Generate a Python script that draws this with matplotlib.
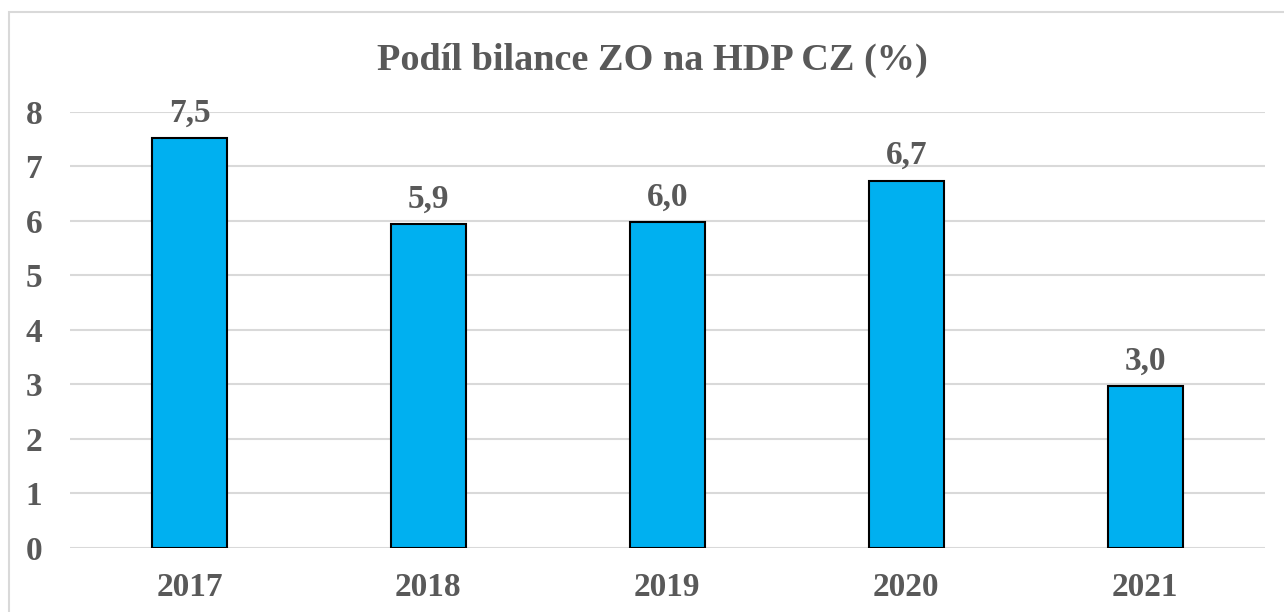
import matplotlib.pyplot as plt
from matplotlib.patches import Rectangle

years = ["2017", "2018", "2019", "2020", "2021"]
shares = [7.52, 5.94, 5.98, 6.74, 2.97]
labels = ["7,5", "5,9", "6,0", "6,7", "3,0"]

text_col = "#595959"
bar_col = "#00B0F0"
grid_col = "#D9D9D9"

plt.rcParams["font.family"] = ["Liberation Serif", "DejaVu Serif"]
plt.rcParams["font.weight"] = "bold"

fig = plt.figure(figsize=(12.84, 6.12), dpi=100)
ax = fig.add_axes([0.0545, 0.1046, 0.9305, 0.7124])

x = list(range(len(years)))
ax.bar(x, shares, width=0.314, color=bar_col, edgecolor="black", linewidth=1.5, zorder=3)
for xi, v, lab in zip(x, shares, labels):
    ax.annotate(lab, (xi, v), xytext=(0, 7), textcoords="offset points",
                ha="center", va="bottom", fontsize=24, fontweight="bold", color=text_col)

ax.set_xlim(-0.5, len(years) - 0.5)
ax.set_ylim(0, 8)
ax.set_yticks(range(0, 9))
ax.set_xticks(x)
ax.set_xticklabels(years)
ax.yaxis.grid(True, color=grid_col, linewidth=1.5, zorder=0)
ax.tick_params(length=0, labelsize=24, colors=text_col)
ax.tick_params(axis="x", pad=17)
ax.tick_params(axis="y", pad=20)
for lab in ax.get_xticklabels() + ax.get_yticklabels():
    lab.set_fontweight("bold")
for s in ax.spines.values():
    s.set_visible(False)

fig.text(0.508, 0.902, "Podíl bilance ZO na HDP CZ (%)", ha="center", va="center",
         fontsize=27.5, fontweight="bold", color=text_col)

fig.patches.append(Rectangle((0.007, -0.1), 1.2, 1.08, transform=fig.transFigure,
                             fill=False, edgecolor=grid_col, linewidth=1.5))

plt.savefig("out.png", dpi=100)
